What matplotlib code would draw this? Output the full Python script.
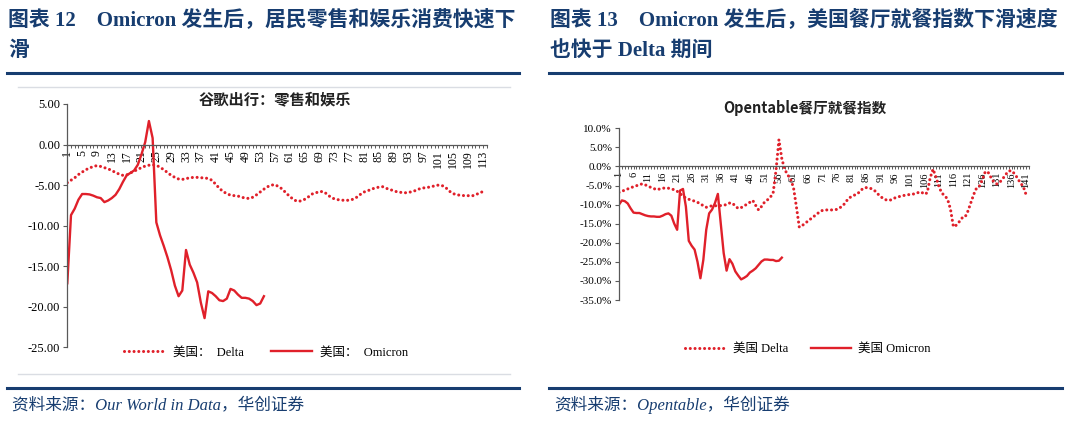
import matplotlib
matplotlib.use('Agg')
import matplotlib.pyplot as plt
from matplotlib.lines import Line2D
from matplotlib.ticker import FuncFormatter
import numpy as np

# ---- data ----
# Google mobility: retail & recreation, US
delta_google = [-4.7, -4.4, -4.1, -3.7, -3.4, -3.1, -2.9, -2.7, -2.6, -2.7,
                -2.85, -3.0, -3.2, -3.45, -3.65, -3.8, -3.75, -3.5, -3.3, -3.05,
                -2.85, -2.65, -2.55, -2.5, -2.55, -2.8, -3.1, -3.45, -3.8, -4.05,
                -4.25, -4.3, -4.2, -4.1, -4.05, -4.05, -4.1, -4.1, -4.2, -4.4,
                -4.9, -5.4, -5.8, -6.05, -6.25, -6.3, -6.35, -6.5, -6.6, -6.65,
                -6.5, -6.2, -5.85, -5.5, -5.2, -5.0, -4.95, -5.2, -5.5, -6.0,
                -6.4, -6.8, -7.0, -6.95, -6.75, -6.45, -6.1, -5.95, -5.8, -5.8,
                -6.1, -6.5, -6.7, -6.8, -6.85, -6.9, -6.85, -6.75, -6.5, -6.15,
                -5.85, -5.7, -5.5, -5.35, -5.25, -5.2, -5.4, -5.55, -5.7, -5.85,
                -5.9, -5.95, -5.9, -5.8, -5.65, -5.45, -5.35, -5.3, -5.2, -5.1,
                -5.0, -5.05, -5.3, -5.75, -6.05, -6.2, -6.25, -6.3, -6.3, -6.35,
                -6.2, -6.0, -5.8]
omicron_google = [-17.1, -8.7, -7.9, -6.8, -6.1, -6.1, -6.15, -6.3, -6.5, -6.6,
                  -7.1, -6.9, -6.6, -6.2, -5.5, -4.6, -3.8, -3.5, -3.2, -2.5,
                  -1.2, 0.3, 2.9, 0.8, -9.6, -11.2, -12.5, -13.9, -15.5, -17.4,
                  -18.7, -18.0, -13.0, -14.8, -15.8, -17.0, -19.5, -21.4, -18.1, -18.3,
                  -18.7, -19.2, -19.3, -19.0, -17.8, -18.0, -18.5, -18.9, -18.9, -19.0,
                  -19.3, -19.8, -19.6, -18.7]

# Opentable seated diners index (%)
delta_opentable = [-6.8, -6.5, -6.2, -5.9, -5.6, -5.3, -5.05, -4.8, -4.55, -4.8,
                   -5.2, -5.5, -5.8, -6.1, -5.9, -5.7, -5.65, -5.7, -5.9, -6.1,
                   -6.5, -7.1, -7.8, -8.3, -8.6, -8.85, -9.1, -9.4, -9.8, -10.3,
                   -10.7, -10.5, -10.3, -10.3, -10.3, -10.25, -10.15, -10.0, -9.6, -9.6,
                   -10.4, -11.0, -10.8, -10.35, -9.9, -9.4, -8.9, -10.2, -11.4, -10.5,
                   -9.4, -8.8, -8.1, -7.0, -1.0, 7.0, 2.0, -0.8, -2.2, -3.3,
                   -5.5, -10.5, -15.9, -15.5, -14.9, -14.3, -13.7, -13.1, -12.5, -11.9,
                   -11.5, -11.4, -11.4, -11.4, -11.35, -11.25, -10.8, -10.3, -9.3, -8.3,
                   -7.9, -7.5, -7.2, -6.4, -5.7, -5.55, -5.6, -5.9, -6.4, -7.2,
                   -7.9, -8.5, -8.8, -8.9, -8.6, -8.2, -7.95, -7.8, -7.6, -7.45,
                   -7.35, -7.25, -7.15, -6.8, -6.7, -7.3, -6.9, -3.0, -0.7, -2.8,
                   -5.2, -7.0, -7.6, -8.6, -11.2, -15.8, -15.4, -14.5, -13.5, -13.3,
                   -11.7, -9.5, -7.3, -5.6, -5.1, -3.4, -1.3, -1.6, -3.0, -4.2,
                   -4.6, -4.1, -3.2, -2.1, -1.2, -1.1, -1.9, -3.0, -4.3, -5.2,
                   -7.4]
omicron_opentable = [-10.0, -8.9, -9.1, -9.7, -11.0, -12.1, -12.2, -12.2, -12.5, -12.8,
                     -13.0, -13.1, -13.1, -13.2, -13.2, -12.9, -12.5, -12.3, -12.9, -15.0,
                     -16.6, -6.3, -5.9, -10.5, -19.5, -20.8, -21.8, -25.0, -29.3, -24.5,
                     -16.6, -12.3, -11.3, -9.6, -7.2, -15.0, -22.7, -27.3, -24.3, -25.5,
                     -27.5, -28.6, -29.6, -29.2, -28.7, -27.8, -27.3, -26.7, -25.8, -24.9,
                     -24.4, -24.4, -24.5, -24.5, -24.8, -24.7, -23.9]

titles_left = ['图表 12    Omicron 发生后，居民零售和娱乐消费快速下', '滑']
titles_right = ['图表 13    Omicron 发生后，美国餐厅就餐指数下滑速度', '也快于 Delta 期间']
source_left = '资料来源：Our World in Data，华创证券'
source_right = '资料来源：Opentable，华创证券'

W, H = 1075, 423
NAVY = '#173D70'
RED = '#E0202A'
AXIS = '#595959'
SERIF_CJK = ['Liberation Serif', 'Noto Sans CJK SC']
DOTTED = (0, (0.01, 1.55))

plt.rcParams['font.family'] = SERIF_CJK


def fx(px):
    return px / W


def fy(py):
    return 1 - py / H


def style_axes(ax, xmax, ylim, yticks, xstep, xmin_count, yfmt, xfs, yfs):
    for s in ['top', 'right']:
        ax.spines[s].set_visible(False)
    ax.spines['bottom'].set_position(('data', 0))
    ax.spines['bottom'].set_color(AXIS)
    ax.spines['left'].set_color(AXIS)
    ax.spines['bottom'].set_linewidth(0.9)
    ax.spines['left'].set_linewidth(0.9)
    ax.set_xlim(1, xmax)
    ax.set_ylim(*ylim)
    ax.set_yticks(yticks)
    ax.yaxis.set_major_formatter(FuncFormatter(yfmt))
    ax.set_xticks(np.arange(1, xmin_count + 1, xstep))
    ax.set_xticks(np.arange(1, xmax + 1), minor=True)
    ax.tick_params(axis='x', which='both', direction='out', length=2.5,
                   width=0.7, color=AXIS, pad=1.5, labelsize=xfs, labelrotation=90)
    ax.tick_params(axis='y', direction='out', length=3, width=0.8,
                   color=AXIS, pad=2, labelsize=yfs)
    ax.patch.set_alpha(0)


fig = plt.figure(figsize=(W / 100, H / 100), dpi=100)
fig.patch.set_facecolor('white')

# headers / footers
for x0, x1, lines, src in [(7, 519, titles_left, source_left),
                           (549, 1062, titles_right, source_right)]:
    fig.text(fx(x0 + 1.5), fy(20), lines[0], fontsize=15, fontweight='bold',
             color=NAVY, va='center', ha='left')
    fig.text(fx(x0 + 1.5), fy(51), lines[1], fontsize=15, fontweight='bold',
             color=NAVY, va='center', ha='left')
    fig.add_artist(Line2D([fx(x0), fx(x1)], [fy(73), fy(73)], color=NAVY, lw=2.2))
    fig.add_artist(Line2D([fx(x0), fx(x1)], [fy(387.5), fy(387.5)], color=NAVY, lw=2.2))
    fig.text(fx(x0 + 5), fy(405), src, fontsize=12, style='italic',
             color=NAVY, va='center', ha='left')

# thin grey frame lines of the left picture
for yy in [87, 374]:
    fig.add_artist(Line2D([fx(18), fx(510)], [fy(yy), fy(yy)], color='#DADDE3', lw=1.0))

# ---- left chart ----
ax1 = fig.add_axes([fx(67.3), fy(347.3), (486.5 - 67.3) / W, (347.3 - 104) / H])
ax1.plot(np.arange(1, len(delta_google) + 1), delta_google, color=RED, lw=2.2,
         linestyle=DOTTED, dash_capstyle='round', label='美国：  Delta')
ax1.plot(np.arange(1, len(omicron_google) + 1), omicron_google, color=RED, lw=1.7,
         label='美国：  Omicron')
style_axes(ax1, 114, (-25, 5), np.arange(-25, 5.1, 5), 4, 113,
           lambda v, p: f'{v:.2f}', 8.5, 9)
fig.text(fx(275), fy(99), '谷歌出行：零售和娱乐', fontsize=11, fontweight='bold',
         family='Noto Sans CJK SC', ha='center', va='center', color='#222222')
ax1.legend(loc='center', bbox_to_anchor=(fx(266), fy(352.5)), bbox_transform=fig.transFigure,
           ncol=2, frameon=False, fontsize=9, handlelength=3.3, handletextpad=0.6,
           columnspacing=2.2, borderpad=0)

# ---- right chart ----
ax2 = fig.add_axes([fx(619), fy(300), (1029 - 619) / W, (300 - 128.3) / H])
ax2.plot(np.arange(1, len(delta_opentable) + 1), delta_opentable, color=RED, lw=2.2,
         linestyle=DOTTED, dash_capstyle='round', label='美国 Delta')
ax2.plot(np.arange(1, len(omicron_opentable) + 1), omicron_opentable, color=RED, lw=1.7,
         label='美国 Omicron')
style_axes(ax2, 142, (-35, 10), np.arange(-35, 10.1, 5), 5, 141,
           lambda v, p: f'{v:.1f}%', 7.5, 8)
fig.text(fx(805), fy(108), 'Opentable餐厅就餐指数', fontsize=10.5, fontweight='bold',
         family='Noto Sans CJK SC', ha='center', va='center', color='#222222')
ax2.legend(loc='center', bbox_to_anchor=(fx(808), fy(349)), bbox_transform=fig.transFigure,
           ncol=2, frameon=False, fontsize=9, handlelength=3.2, handletextpad=0.6,
           columnspacing=1.8, borderpad=0)

fig.savefig('out.png', dpi=100, facecolor='white')
